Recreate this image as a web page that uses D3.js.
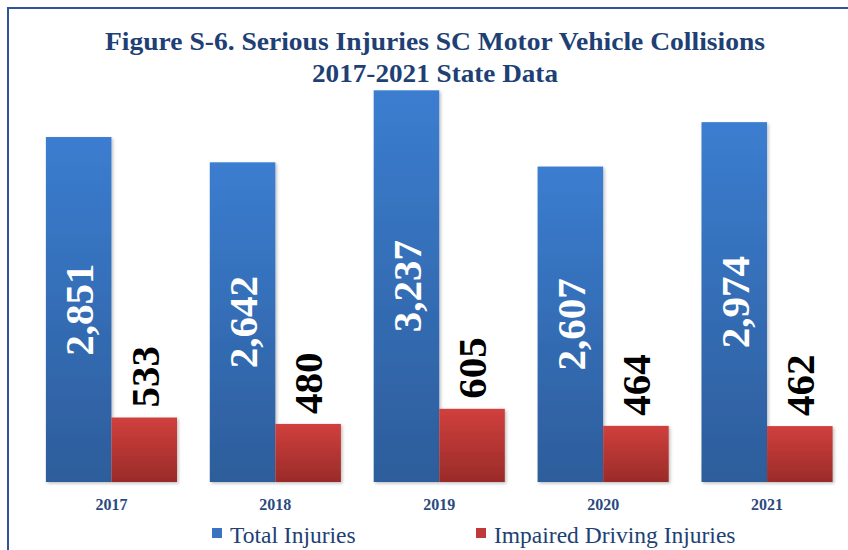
<!DOCTYPE html>
<html>
<head>
<meta charset="utf-8">
<script src="https://cdn.jsdelivr.net/npm/d3@7"></script>
<style>
  body { margin: 0; background: #fff; }
  svg { display: block; font-family: "Liberation Serif", "Times New Roman", serif; }
</style>
</head>
<body>
<script>
const width = 848;
const height = 550;

const years = ["2017", "2018", "2019", "2020", "2021"];
const seriesNames = ["Total Injuries", "Impaired Driving Injuries"];
const totalInjuries = [2851, 2642, 3237, 2607, 2974];
const impairedInjuries = [533, 480, 605, 464, 462];
const titleLines = ["Figure S-6. Serious Injuries SC Motor Vehicle Collisions", "2017-2021 State Data"];

const rows = years.map((y, i) => ({ year: y, values: [totalInjuries[i], impairedInjuries[i]] }));

const svg = d3.select("body").append("svg")
  .attr("width", width)
  .attr("height", height);

const defs = svg.append("defs");
const gradBlue = defs.append("linearGradient").attr("id", "gBlue").attr("x1", 0).attr("y1", 0).attr("x2", 0).attr("y2", 1);
gradBlue.append("stop").attr("offset", "0%").attr("stop-color", "#3b7dd0");
gradBlue.append("stop").attr("offset", "100%").attr("stop-color", "#2d5d9b");
const gradRed = defs.append("linearGradient").attr("id", "gRed").attr("x1", 0).attr("y1", 0).attr("x2", 0).attr("y2", 1);
gradRed.append("stop").attr("offset", "0%").attr("stop-color", "#d0403d");
gradRed.append("stop").attr("offset", "100%").attr("stop-color", "#9a2b29");

const shadow = defs.append("filter").attr("id", "shadow").attr("x", "-10%").attr("y", "-10%").attr("width", "130%").attr("height", "130%");
shadow.append("feDropShadow").attr("dx", 1.5).attr("dy", 1.5).attr("stdDeviation", 1.5).attr("flood-color", "#000").attr("flood-opacity", 0.25);

// chart border (runs off the right/bottom edge)
svg.append("rect")
  .attr("x", 8).attr("y", 8)
  .attr("width", 900).attr("height", 600)
  .attr("fill", "none")
  .attr("stroke", "#2f5597")
  .attr("stroke-width", 2);

// title
const title = svg.append("text")
  .attr("text-anchor", "middle")
  .attr("fill", "#203f74")
  .attr("font-weight", "bold")
  .attr("font-size", 25);
title.append("tspan").attr("x", 435).attr("y", 49.5)
  .attr("textLength", 660).attr("lengthAdjust", "spacingAndGlyphs").text(titleLines[0]);
title.append("tspan").attr("x", 435).attr("y", 82)
  .attr("textLength", 246).attr("lengthAdjust", "spacingAndGlyphs").text(titleLines[1]);

const x = d3.scaleBand().domain(years).range([29.5, 849]).paddingInner(0.2).paddingOuter(0.1);
const x1 = d3.scaleBand().domain([0, 1]).range([0, x.bandwidth()]);
const y = d3.scaleLinear().domain([0, 3500]).range([482, 58.5]);
const fills = ["url(#gBlue)", "url(#gRed)"];
const legendColors = ["#3a73c0", "#c0393a"];

const groups = svg.append("g").selectAll("g")
  .data(rows)
  .join("g")
  .attr("transform", d => `translate(${x(d.year)},0)`);

groups.selectAll("rect")
  .data(d => d.values.map((v, k) => ({ v, k })))
  .join("rect")
  .attr("x", d => x1(d.k))
  .attr("y", d => y(d.v))
  .attr("width", x1.bandwidth())
  .attr("height", d => y(0) - y(d.v))
  .attr("fill", d => fills[d.k])
  .attr("filter", "url(#shadow)");

// value labels
groups.selectAll("text.val")
  .data(d => d.values.map((v, k) => ({ v, k })))
  .join("text")
  .attr("class", "val")
  .attr("transform", d => {
    const cx = x1(d.k) + x1.bandwidth() / 2;
    const cy = d.k === 0 ? (y(d.v) + y(0)) / 2 : y(d.v) - 10;
    return `translate(${cx},${cy}) rotate(-90)`;
  })
  .attr("text-anchor", d => d.k === 0 ? "middle" : "start")
  .attr("dy", "0.35em")
  .attr("font-size", 41)
  .attr("font-weight", "bold")
  .attr("fill", d => d.k === 0 ? "#fff" : "#000")
  .text(d => d3.format(",")(d.v));

// category axis labels
svg.append("g").selectAll("text")
  .data(years)
  .join("text")
  .attr("x", d => x(d) + x.bandwidth() / 2)
  .attr("y", 510)
  .attr("text-anchor", "middle")
  .attr("font-size", 16)
  .attr("font-weight", "bold")
  .attr("fill", "#2a4a7f")
  .text(d => d);

// legend
const legendX = [212, 476];
const legend = svg.append("g").selectAll("g")
  .data(seriesNames)
  .join("g")
  .attr("transform", (d, i) => `translate(${legendX[i]},0)`);
legend.append("rect")
  .attr("x", 0).attr("y", 528)
  .attr("width", 10).attr("height", 10)
  .attr("fill", (d, i) => legendColors[i]);
legend.append("text")
  .attr("x", 18)
  .attr("y", 543)
  .attr("font-size", 23.5)
  .attr("fill", "#203f74")
  .text(d => d);
</script>
</body>
</html>
